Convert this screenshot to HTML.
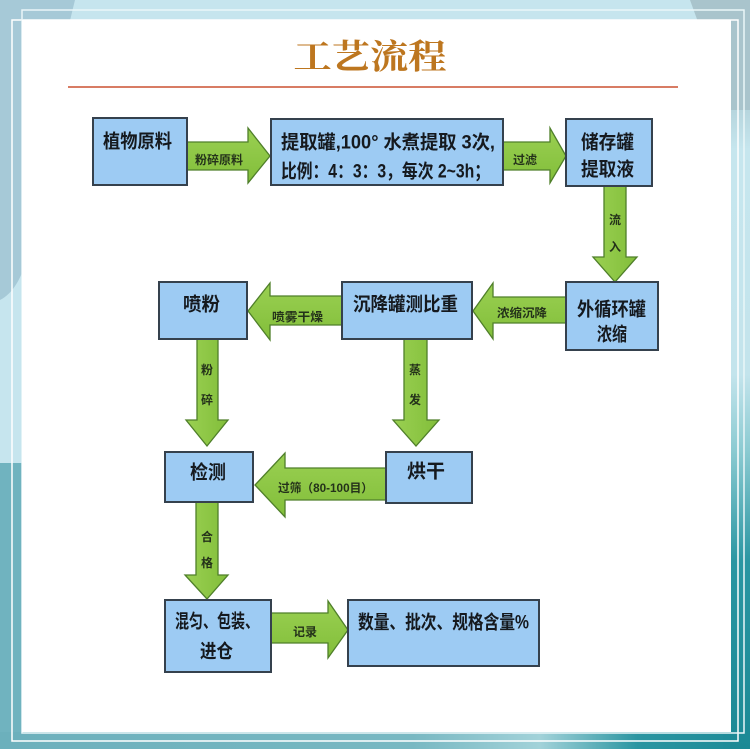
<!DOCTYPE html>
<html>
<head>
<meta charset="utf-8">
<style>
  html,body{margin:0;padding:0;background:#c6e5ee;}
  body{width:750px;height:749px;overflow:hidden;}
  svg{display:block;}
  .bx{font-family:"Liberation Sans","Noto Sans CJK SC","WenQuanYi Zen Hei",sans-serif;font-weight:bold;fill:#15191e;font-size:19px;}
  .sm{font-family:"Liberation Sans","Noto Sans CJK SC","WenQuanYi Zen Hei",sans-serif;font-weight:bold;fill:#24321a;font-size:12px;}
</style>
</head>
<body>
<svg width="750" height="749" viewBox="0 0 750 749" xmlns="http://www.w3.org/2000/svg">
  <defs>
    <linearGradient id="bot" x1="0" y1="0" x2="1" y2="0">
      <stop offset="0" stop-color="#6cb0bc"/>
      <stop offset="0.55" stop-color="#78b8c2"/>
      <stop offset="0.72" stop-color="#a2d2d9"/>
      <stop offset="0.85" stop-color="#2a95a1"/>
      <stop offset="1" stop-color="#1c8a97"/>
    </linearGradient>
    <linearGradient id="rgt" x1="0" y1="0" x2="0" y2="1">
      <stop offset="0" stop-color="#a9c4cc"/>
      <stop offset="0.14" stop-color="#b4d3db"/>
      <stop offset="0.2" stop-color="#c6e6ee"/>
      <stop offset="0.5" stop-color="#c3e4ec"/>
      <stop offset="0.6" stop-color="#8ccbd2"/>
      <stop offset="0.75" stop-color="#2a96a2"/>
      <stop offset="1" stop-color="#1b8995"/>
    </linearGradient>
    <linearGradient id="arr" x1="0" y1="0" x2="0" y2="1">
      <stop offset="0" stop-color="#9ad052"/>
      <stop offset="1" stop-color="#82be3a"/>
    </linearGradient>
    <linearGradient id="arrv" x1="0" y1="0" x2="1" y2="0">
      <stop offset="0" stop-color="#9ad052"/>
      <stop offset="1" stop-color="#82be3a"/>
    </linearGradient>
  </defs>

  <!-- background -->
  <rect x="0" y="0" width="750" height="749" fill="#c6e5ee"/>
  <path d="M0,0 L75,0 C60,60 50,120 40,200 C30,260 20,290 0,300 Z" fill="#a6c9d7"/>
  <rect x="0" y="463" width="24" height="286" fill="#70b3bf"/>
  <rect x="0" y="732" width="750" height="17" fill="url(#bot)"/>
  <rect x="730" y="0" width="20" height="749" fill="url(#rgt)"/>
  <path d="M690,0 L750,0 L750,110 L730,110 Z" fill="#a9c4cc"/>

  <!-- frame lines -->
  <rect x="12" y="20" width="726" height="721" fill="none" stroke="#ffffff" stroke-width="1.5"/>
  <rect x="22" y="10" width="722" height="723" fill="none" stroke="#eaf6f8" stroke-width="1.5"/>

  <!-- white panel -->
  <rect x="22" y="20" width="709" height="712" fill="#ffffff"/>

  <!-- title -->
  <text x="370" y="58" text-anchor="middle" dominant-baseline="central" font-family="'Liberation Serif','Noto Serif CJK SC',serif" font-weight="bold" font-size="34" fill="#bd761f" textLength="153" lengthAdjust="spacingAndGlyphs">工艺流程</text>
  <rect x="68" y="86" width="610" height="2" fill="#d87c64"/>

  <!-- arrows -->
  <g fill="url(#arr)" stroke="#4f7f2a" stroke-width="1.3" stroke-linejoin="miter">
    <polygon points="187,142 248,142 248,128 270,156 248,183 248,170 187,170"/>
    <polygon points="502,142 550,142 550,128 566,156 550,183 550,170 502,170"/>
    <polygon points="566,297 493,297 493,283 473,311 493,339 493,323 566,323"/>
    <polygon points="342,296 270,296 270,283 248,311 270,340 270,325 342,325"/>
    <polygon points="386,468 285,468 285,453 255,485 285,517 285,500 386,500"/>
    <polygon points="271,613 328,613 328,601 348,630 328,658 328,643 271,643"/>
  </g>
  <g fill="url(#arrv)" stroke="#4f7f2a" stroke-width="1.3">
    <polygon points="604,185 626,185 626,257 637,257 615,282 593,257 604,257"/>
    <polygon points="197,339 218,339 218,420 228,420 207,446 186,420 197,420"/>
    <polygon points="404,339 427,339 427,420 439,420 416,446 393,420 404,420"/>
    <polygon points="196,502 218,502 218,575 228,575 207,599 185,575 196,575"/>
  </g>

  <!-- boxes -->
  <g fill="#9dcbf3" stroke="#35414d" stroke-width="2">
    <rect x="93" y="118" width="94" height="67"/>
    <rect x="271" y="119" width="232" height="66"/>
    <rect x="566" y="119" width="86" height="67"/>
    <rect x="566" y="282" width="92" height="68"/>
    <rect x="342" y="282" width="130" height="57"/>
    <rect x="159" y="282" width="88" height="57"/>
    <rect x="165" y="452" width="88" height="50"/>
    <rect x="386" y="452" width="86" height="51"/>
    <rect x="165" y="600" width="106" height="72"/>
    <rect x="348" y="600" width="191" height="66"/>
  </g>

  <!-- box text -->
  <g class="bx" dominant-baseline="central">
    <text x="103" y="142" textLength="69" lengthAdjust="spacingAndGlyphs">植物原料</text>
    <text x="281" y="143" textLength="214" lengthAdjust="spacingAndGlyphs">提取罐,100°  水煮提取 3次,</text>
    <text x="281" y="172" textLength="209" lengthAdjust="spacingAndGlyphs">比例：4：3：3，每次 2~3h；</text>
    <text x="581" y="143" textLength="53" lengthAdjust="spacingAndGlyphs">储存罐</text>
    <text x="581" y="170" textLength="53" lengthAdjust="spacingAndGlyphs">提取液</text>
    <text x="577" y="310" textLength="69" lengthAdjust="spacingAndGlyphs">外循环罐</text>
    <text x="597" y="335" textLength="30" lengthAdjust="spacingAndGlyphs">浓缩</text>
    <text x="353" y="305" textLength="105" lengthAdjust="spacingAndGlyphs">沉降罐测比重</text>
    <text x="183" y="305" textLength="37" lengthAdjust="spacingAndGlyphs">喷粉</text>
    <text x="190" y="473" textLength="36" lengthAdjust="spacingAndGlyphs">检测</text>
    <text x="407" y="472" textLength="38" lengthAdjust="spacingAndGlyphs">烘干</text>
    <text x="175" y="622" textLength="84" lengthAdjust="spacingAndGlyphs">混匀、包装、</text>
    <text x="200" y="652" textLength="33" lengthAdjust="spacingAndGlyphs">进仓</text>
    <text x="358" y="623" textLength="171" lengthAdjust="spacingAndGlyphs">数量、批次、规格含量%</text>
  </g>

  <!-- arrow labels -->
  <g class="sm" dominant-baseline="central">
    <text x="195" y="160" textLength="48" lengthAdjust="spacingAndGlyphs">粉碎原料</text>
    <text x="513" y="160" textLength="24" lengthAdjust="spacingAndGlyphs">过滤</text>
    <text x="497" y="313" textLength="50" lengthAdjust="spacingAndGlyphs">浓缩沉降</text>
    <text x="272" y="317" textLength="51" lengthAdjust="spacingAndGlyphs">喷雾干燥</text>
    <text x="278" y="488" textLength="95" lengthAdjust="spacingAndGlyphs">过筛（80-100目）</text>
    <text x="293" y="632" textLength="24" lengthAdjust="spacingAndGlyphs">记录</text>
    <text x="615" y="220" text-anchor="middle">流</text>
    <text x="615" y="247" text-anchor="middle">入</text>
    <text x="207" y="370" text-anchor="middle">粉</text>
    <text x="207" y="400" text-anchor="middle">碎</text>
    <text x="415" y="370" text-anchor="middle">蒸</text>
    <text x="415" y="400" text-anchor="middle">发</text>
    <text x="207" y="537" text-anchor="middle">合</text>
    <text x="207" y="563" text-anchor="middle">格</text>
  </g>
</svg>
</body>
</html>
